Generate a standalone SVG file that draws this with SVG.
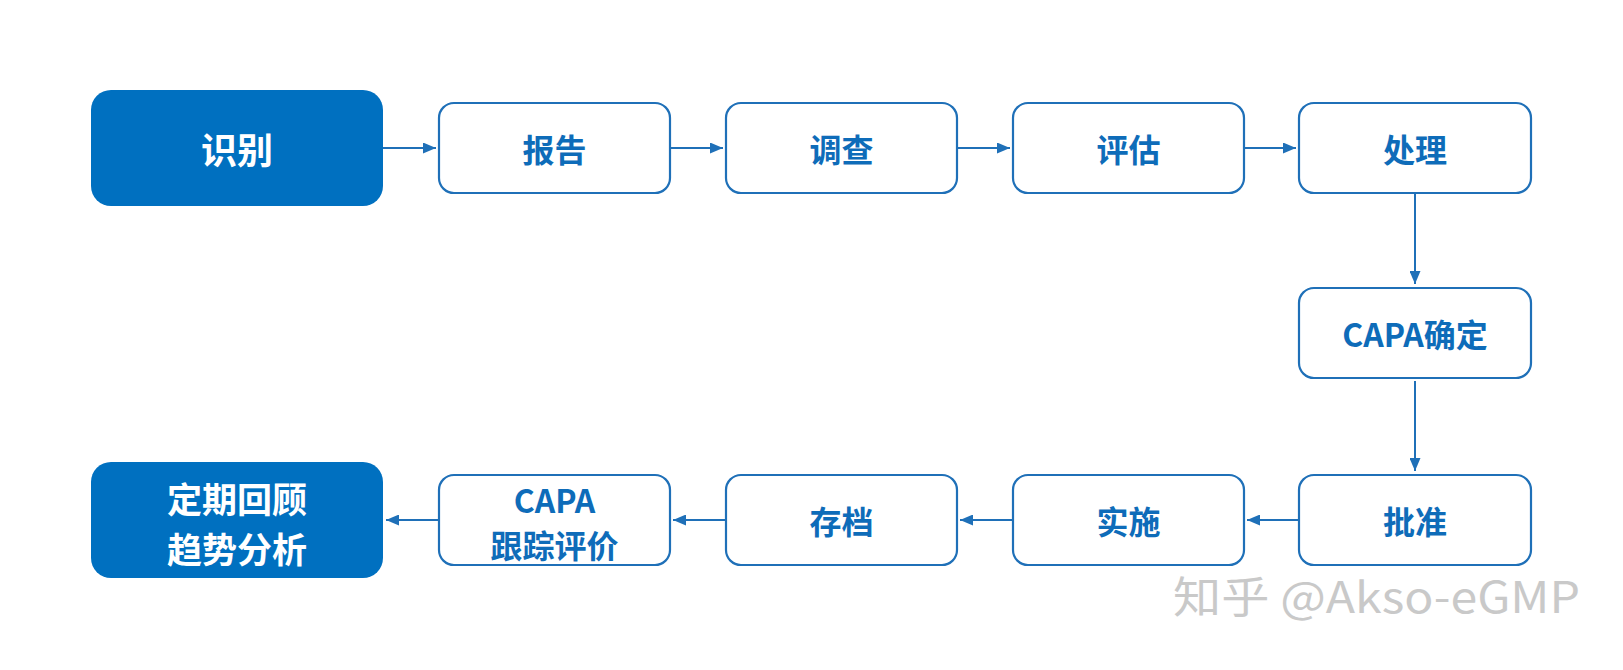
<svg xmlns="http://www.w3.org/2000/svg" width="1623" height="670" viewBox="0 0 1623 670">
<defs>
<style>
.solid{fill:#0070C0;}
.box{fill:#ffffff;stroke:#1F70B8;stroke-width:2.2;}
.t{font-family:"Noto Sans CJK SC","Microsoft YaHei",sans-serif;font-weight:bold;text-anchor:middle;dominant-baseline:central;}
.tb{fill:#0E6CB9;font-size:32px;}
.tw{fill:#ffffff;font-size:36px;}
.tw2{fill:#ffffff;font-size:35px;}
.ln{stroke:#1F70B8;stroke-width:2;fill:none;marker-end:url(#ah);}
.wm{font-family:"Noto Sans CJK SC","Noto Sans",sans-serif;font-size:43px;fill:#c9c9c9;}
</style>
<marker id="ah" viewBox="0 0 13 11" refX="13" refY="5.5" markerWidth="13" markerHeight="11" markerUnits="userSpaceOnUse" orient="auto">
<path d="M0,0 L13,5.5 L0,11 Z" fill="#1F70B8"/>
</marker>
</defs>
<rect width="1623" height="670" fill="#ffffff"/>
<g id="n1"><rect class="solid" x="91" y="90" width="292" height="116" rx="20"/><text class="t tw" x="237" y="148">识别</text></g>
<g id="n2"><rect class="box" x="439" y="103" width="231" height="90" rx="15"/><text class="t tb" x="554.5" y="148">报告</text></g>
<g id="n3"><rect class="box" x="726" y="103" width="231" height="90" rx="15"/><text class="t tb" x="841.5" y="148">调查</text></g>
<g id="n4"><rect class="box" x="1013" y="103" width="231" height="90" rx="15"/><text class="t tb" x="1128.5" y="148">评估</text></g>
<g id="n5"><rect class="box" x="1299" y="103" width="232" height="90" rx="15"/><text class="t tb" x="1415" y="148">处理</text></g>
<g id="n6"><rect class="box" x="1299" y="288" width="232" height="90" rx="15"/><text class="t tb" x="1415" y="333">CAPA确定</text></g>
<g id="n7"><rect class="box" x="1299" y="475" width="232" height="90" rx="15"/><text class="t tb" x="1415" y="520">批准</text></g>
<g id="n8"><rect class="box" x="1013" y="475" width="231" height="90" rx="15"/><text class="t tb" x="1128.5" y="520">实施</text></g>
<g id="n9"><rect class="box" x="726" y="475" width="231" height="90" rx="15"/><text class="t tb" x="841.5" y="520">存档</text></g>
<g id="n10"><rect class="box" x="439" y="475" width="231" height="90" rx="15"/><text class="t tb" x="554.5" y="499">CAPA</text><text class="t tb" x="554.5" y="544">跟踪评价</text></g>
<g id="n11"><rect class="solid" x="91" y="462" width="292" height="116" rx="20"/><text class="t tw2" x="237" y="497">定期回顾</text><text class="t tw2" x="237" y="547">趋势分析</text></g>
<g id="connectors">
<line class="ln" x1="383" y1="148" x2="436" y2="148"/>
<line class="ln" x1="670" y1="148" x2="723" y2="148"/>
<line class="ln" x1="957" y1="148" x2="1010" y2="148"/>
<line class="ln" x1="1244" y1="148" x2="1296" y2="148"/>
<line class="ln" x1="1415" y1="193" x2="1415" y2="284"/>
<line class="ln" x1="1415" y1="381" x2="1415" y2="471"/>
<line class="ln" x1="1299" y1="520" x2="1247" y2="520"/>
<line class="ln" x1="1013" y1="520" x2="960" y2="520"/>
<line class="ln" x1="726" y1="520" x2="673" y2="520"/>
<line class="ln" x1="439" y1="520" x2="386" y2="520"/>
</g>
<text class="wm" x="1173" y="613" textLength="407" lengthAdjust="spacingAndGlyphs">知乎 @Akso-eGMP</text>
</svg>
